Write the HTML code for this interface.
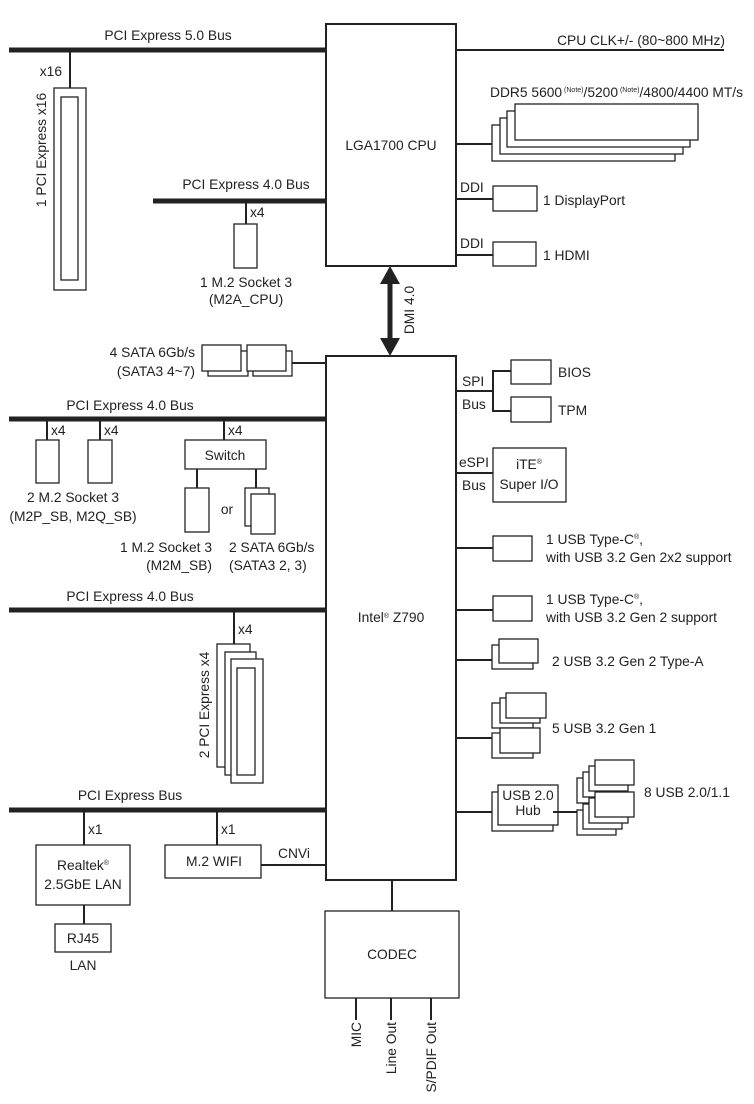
<!DOCTYPE html>
<html><head><meta charset="utf-8"><style>
html,body{margin:0;padding:0;background:#fff}
svg{display:block}
text{font-family:"Liberation Sans",sans-serif;font-size:13.8px;fill:#222}
</style></head><body>
<svg width="754" height="1104" viewBox="0 0 754 1104" xmlns="http://www.w3.org/2000/svg">
<g fill="#fff" stroke="#222" stroke-width="1.3">
<rect x="326" y="24" width="130" height="242" stroke-width="2"/>
<rect x="54" y="88" width="32" height="202"/>
<rect x="61" y="97" width="17" height="183"/>
<rect x="234" y="224" width="23" height="44"/>
<rect x="492" y="125" width="183" height="36"/>
<rect x="500" y="118" width="183" height="36"/>
<rect x="507" y="111" width="183" height="36"/>
<rect x="515" y="104" width="183" height="36"/>
<rect x="493" y="186" width="44" height="25"/>
<rect x="493" y="242" width="43" height="24"/>
<rect x="326" y="356" width="130" height="524" stroke-width="2"/>
<rect x="208" y="351" width="40" height="25"/>
<rect x="202" y="345" width="39" height="26"/>
<rect x="253" y="351" width="39" height="25"/>
<rect x="247" y="345" width="39" height="26"/>
<rect x="36" y="440" width="23" height="43"/>
<rect x="88" y="440" width="24" height="43"/>
<rect x="185" y="440" width="81" height="29"/>
<rect x="185" y="488" width="24" height="44"/>
<rect x="245" y="488" width="24" height="38"/>
<rect x="251" y="494" width="24" height="40"/>
<rect x="217" y="644" width="33" height="123"/>
<rect x="225" y="652" width="31" height="123"/>
<rect x="231" y="659" width="32" height="124"/>
<rect x="237" y="668" width="18" height="107"/>
<rect x="36" y="845" width="94" height="60"/>
<rect x="55" y="924" width="56" height="28"/>
<rect x="165" y="845" width="96" height="33"/>
<rect x="325" y="911" width="134" height="87"/>
<rect x="511" y="360" width="40" height="24"/>
<rect x="511" y="397" width="40" height="25"/>
<rect x="493" y="448" width="73" height="54"/>
<rect x="493" y="536" width="39" height="25"/>
<rect x="493" y="596" width="39" height="25"/>
<rect x="492" y="645" width="41" height="24"/>
<rect x="499" y="639" width="39" height="24"/>
<rect x="492" y="703" width="41" height="25"/>
<rect x="500" y="698" width="40" height="25"/>
<rect x="506" y="693" width="40" height="25"/>
<rect x="492" y="733" width="41" height="25"/>
<rect x="500" y="728" width="40" height="25"/>
<rect x="492" y="792" width="61" height="39"/>
<rect x="498" y="785" width="60" height="40"/>
<rect x="577" y="778" width="39" height="25"/>
<rect x="583" y="772" width="39" height="25"/>
<rect x="589" y="766" width="39" height="25"/>
<rect x="595" y="760" width="39" height="25"/>
<rect x="577" y="810" width="39" height="25"/>
<rect x="583" y="804" width="39" height="25"/>
<rect x="589" y="798" width="39" height="25"/>
<rect x="595" y="792" width="39" height="25"/>
</g>
<g stroke="#222" fill="none">
<g stroke-width="5">
<line x1="9" y1="50" x2="326" y2="50"/>
<line x1="153" y1="201" x2="326" y2="201"/>
<line x1="9" y1="419" x2="326" y2="419"/>
<line x1="9" y1="610" x2="326" y2="610"/>
<line x1="9" y1="810" x2="326" y2="810"/>
<line x1="390" y1="282" x2="390" y2="340"/>
</g>
<g stroke-width="2">
<line x1="456" y1="50" x2="724" y2="50"/>
<line x1="70" y1="50" x2="70" y2="88"/>
<line x1="246" y1="201" x2="246" y2="224"/>
<line x1="456" y1="144" x2="492" y2="144"/>
<line x1="456" y1="199" x2="493" y2="199"/>
<line x1="456" y1="255" x2="493" y2="255"/>
<line x1="292" y1="363" x2="326" y2="363"/>
<line x1="47" y1="419" x2="47" y2="440"/>
<line x1="100" y1="419" x2="100" y2="440"/>
<line x1="224" y1="419" x2="224" y2="440"/>
<line x1="197" y1="469" x2="197" y2="488"/>
<line x1="256" y1="469" x2="256" y2="488"/>
<line x1="234" y1="610" x2="234" y2="644"/>
<line x1="84" y1="810" x2="84" y2="845"/>
<line x1="84" y1="905" x2="84" y2="924"/>
<line x1="217" y1="810" x2="217" y2="845"/>
<line x1="261" y1="865" x2="326" y2="865"/>
<line x1="392" y1="880" x2="392" y2="911"/>
<line x1="356" y1="998" x2="356" y2="1020"/>
<line x1="391" y1="998" x2="391" y2="1020"/>
<line x1="431" y1="998" x2="431" y2="1020"/>
<polyline points="456,391 493,391"/>
<polyline points="511,371 493,371 493,411 511,411"/>
<line x1="456" y1="473" x2="493" y2="473"/>
<line x1="456" y1="548" x2="493" y2="548"/>
<line x1="456" y1="610" x2="493" y2="610"/>
<line x1="456" y1="660" x2="492" y2="660"/>
<line x1="456" y1="738" x2="492" y2="738"/>
<line x1="456" y1="812" x2="492" y2="812"/>
<line x1="553" y1="812" x2="577" y2="812"/>
</g>
</g>
<polygon points="390,266 380,284 400,284" fill="#222"/>
<polygon points="390,356 380,338 400,338" fill="#222"/>
<text x="168" y="40" text-anchor="middle">PCI Express 5.0 Bus</text>
<text x="62" y="76" text-anchor="end">x16</text>
<text transform="translate(46,150) rotate(-90)" text-anchor="middle">1 PCI Express x16</text>
<text x="246" y="189" text-anchor="middle">PCI Express 4.0 Bus</text>
<text x="250" y="217">x4</text>
<text x="246" y="287" text-anchor="middle">1 M.2 Socket 3</text>
<text x="246" y="304" text-anchor="middle">(M2A_CPU)</text>
<text x="391" y="150" text-anchor="middle">LGA1700 CPU</text>
<text x="725" y="45" text-anchor="end">CPU CLK+/- (80~800 MHz)</text>
<text x="490" y="97">DDR5 5600<tspan font-size="7" dy="-5"> (Note)</tspan><tspan dy="5">/5200</tspan><tspan font-size="7" dy="-5"> (Note)</tspan><tspan dy="5">/4800/4400 MT/s</tspan></text>
<text x="460" y="192">DDI</text>
<text x="543" y="205">1 DisplayPort</text>
<text x="460" y="248">DDI</text>
<text x="543" y="260">1 HDMI</text>
<text transform="translate(414,310) rotate(-90)" text-anchor="middle">DMI 4.0</text>
<text x="195" y="357" text-anchor="end">4 SATA 6Gb/s</text>
<text x="195" y="376" text-anchor="end">(SATA3 4~7)</text>
<text x="130" y="410" text-anchor="middle">PCI Express 4.0 Bus</text>
<text x="51" y="435">x4</text>
<text x="104" y="435">x4</text>
<text x="228" y="435">x4</text>
<text x="225" y="460" text-anchor="middle">Switch</text>
<text x="227" y="514" text-anchor="middle">or</text>
<text x="73" y="502" text-anchor="middle">2 M.2 Socket 3</text>
<text x="73" y="521" text-anchor="middle">(M2P_SB, M2Q_SB)</text>
<text x="212" y="552" text-anchor="end">1 M.2 Socket 3</text>
<text x="212" y="570" text-anchor="end">(M2M_SB)</text>
<text x="229" y="552">2 SATA 6Gb/s</text>
<text x="229" y="570">(SATA3 2, 3)</text>
<text x="130" y="601" text-anchor="middle">PCI Express 4.0 Bus</text>
<text x="238" y="634">x4</text>
<text transform="translate(209,705) rotate(-90)" text-anchor="middle">2 PCI Express x4</text>
<text x="130" y="800" text-anchor="middle">PCI Express Bus</text>
<text x="88" y="834">x1</text>
<text x="221" y="834">x1</text>
<text x="83" y="870" text-anchor="middle">Realtek<tspan font-size="7" dy="-5">®</tspan></text>
<text x="83" y="889" text-anchor="middle">2.5GbE LAN</text>
<text x="83" y="943" text-anchor="middle">RJ45</text>
<text x="83" y="970" text-anchor="middle">LAN</text>
<text x="214" y="866" text-anchor="middle">M.2 WIFI</text>
<text x="278" y="858">CNVi</text>
<text x="391" y="622" text-anchor="middle">Intel<tspan font-size="7" dy="-4">®</tspan><tspan dy="4"> Z790</tspan></text>
<text x="392" y="959" text-anchor="middle">CODEC</text>
<text transform="translate(361,1022) rotate(-90)" text-anchor="end">MIC</text>
<text transform="translate(396,1022) rotate(-90)" text-anchor="end">Line Out</text>
<text transform="translate(436,1022) rotate(-90)" text-anchor="end">S/PDIF Out</text>
<text x="462" y="386">SPI</text>
<text x="462" y="409">Bus</text>
<text x="558" y="377">BIOS</text>
<text x="558" y="415">TPM</text>
<text x="459" y="467">eSPI</text>
<text x="462" y="490">Bus</text>
<text x="529" y="469" text-anchor="middle">iTE<tspan font-size="7" dy="-5">®</tspan></text>
<text x="529" y="489" text-anchor="middle">Super I/O</text>
<text x="546" y="544">1 USB Type-C<tspan font-size="7" dy="-5">®</tspan><tspan dy="5">,</tspan></text>
<text x="546" y="562">with USB 3.2 Gen 2x2 support</text>
<text x="546" y="604">1 USB Type-C<tspan font-size="7" dy="-5">®</tspan><tspan dy="5">,</tspan></text>
<text x="546" y="622">with USB 3.2 Gen 2 support</text>
<text x="552" y="666">2 USB 3.2 Gen 2 Type-A</text>
<text x="552" y="733">5 USB 3.2 Gen 1</text>
<text x="528" y="800" text-anchor="middle" font-size="10.5">USB 2.0</text>
<text x="528" y="815" text-anchor="middle" font-size="10.5">Hub</text>
<text x="644" y="797">8 USB 2.0/1.1</text>
</svg>
</body></html>
